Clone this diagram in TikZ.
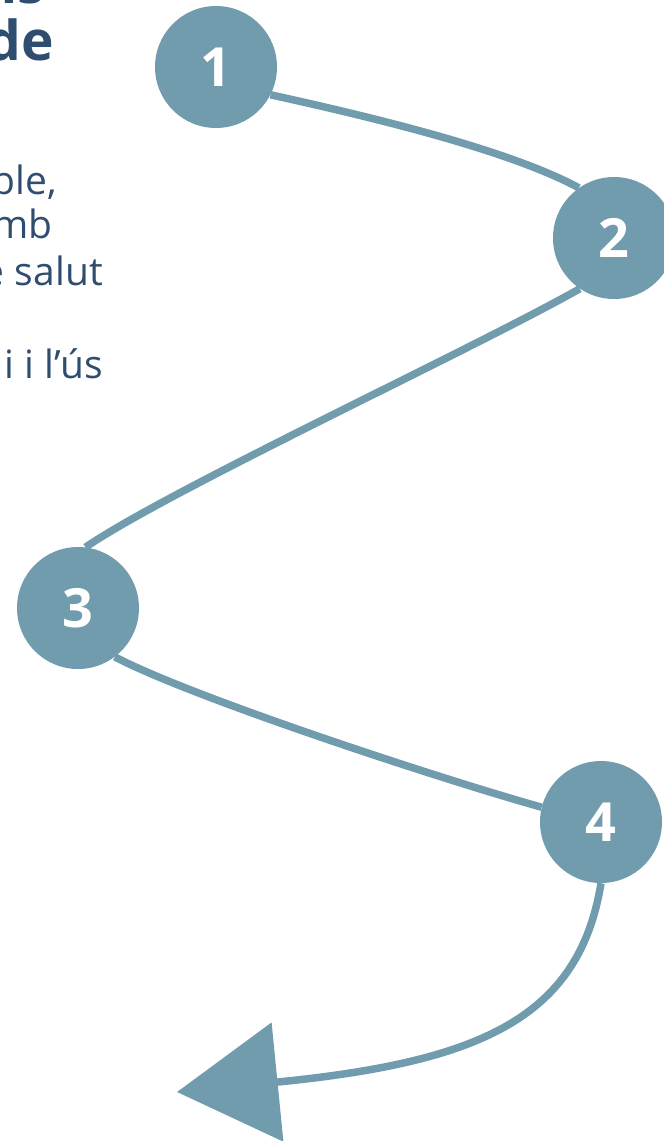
\documentclass[tikz,border=0pt]{standalone}
\usepackage{fontspec}
\setmainfont{Open Sans}
\usetikzlibrary{arrows.meta,backgrounds}
\definecolor{stepblue}{HTML}{709CAE}
\definecolor{textblue}{HTML}{2F4D6F}
\begin{document}
\begin{tikzpicture}[x=1pt,y=1pt,
  stepcircle/.style={circle, fill=stepblue, minimum size=122pt, inner sep=0pt, text=white, font=\bfseries\fontsize{54}{54}\selectfont},
  link/.style={draw=stepblue, line width=7.5pt},
  headtext/.style={anchor=base east, text=textblue, font=\bfseries\fontsize{55}{55}\selectfont, inner sep=0pt},
  bodytext/.style={anchor=base east, text=textblue, font=\fontsize{39}{39}\selectfont, inner sep=0pt}]
\useasboundingbox (0,0) rectangle (664,-1141);
\clip (0,0) rectangle (664,-1141);
\node[headtext] (h1) at (45,-3) {ns};
\node[headtext] (h2) at (54,-60) {de};
\node[bodytext] (b1) at (57,-194) {ble,};
\node[bodytext] (b2) at (53,-238) {mb};
\node[bodytext] (b3) at (103,-285) {e salut};
\node[bodytext] (b4) at (103,-378) {i i l’ús};
\node[stepcircle] (n1) at (216,-67) {1};
\node[stepcircle] (n2) at (614,-238) {2};
\node[stepcircle] (n3) at (78,-608) {3};
\node[stepcircle] (n4) at (601,-822) {4};
\coordinate (tip) at (177,-1092);
\begin{scope}[on background layer]
\draw[link] (n1.-27) .. controls +(100,-22) and +(-70,38) .. (n2.125);
\draw[link] (n2.-124) .. controls +(-110,-62) and +(85,58) .. (n3.83);
\draw[link] (n3.-53) .. controls +(80,-42) and +(-90,25) .. (n4.166);
\draw[link,-{Triangle[length=101pt,width=118pt]}] (n4.-90) .. controls +(-22,-135) and +(303,30) .. (tip);
\end{scope}
\end{tikzpicture}
\end{document}
